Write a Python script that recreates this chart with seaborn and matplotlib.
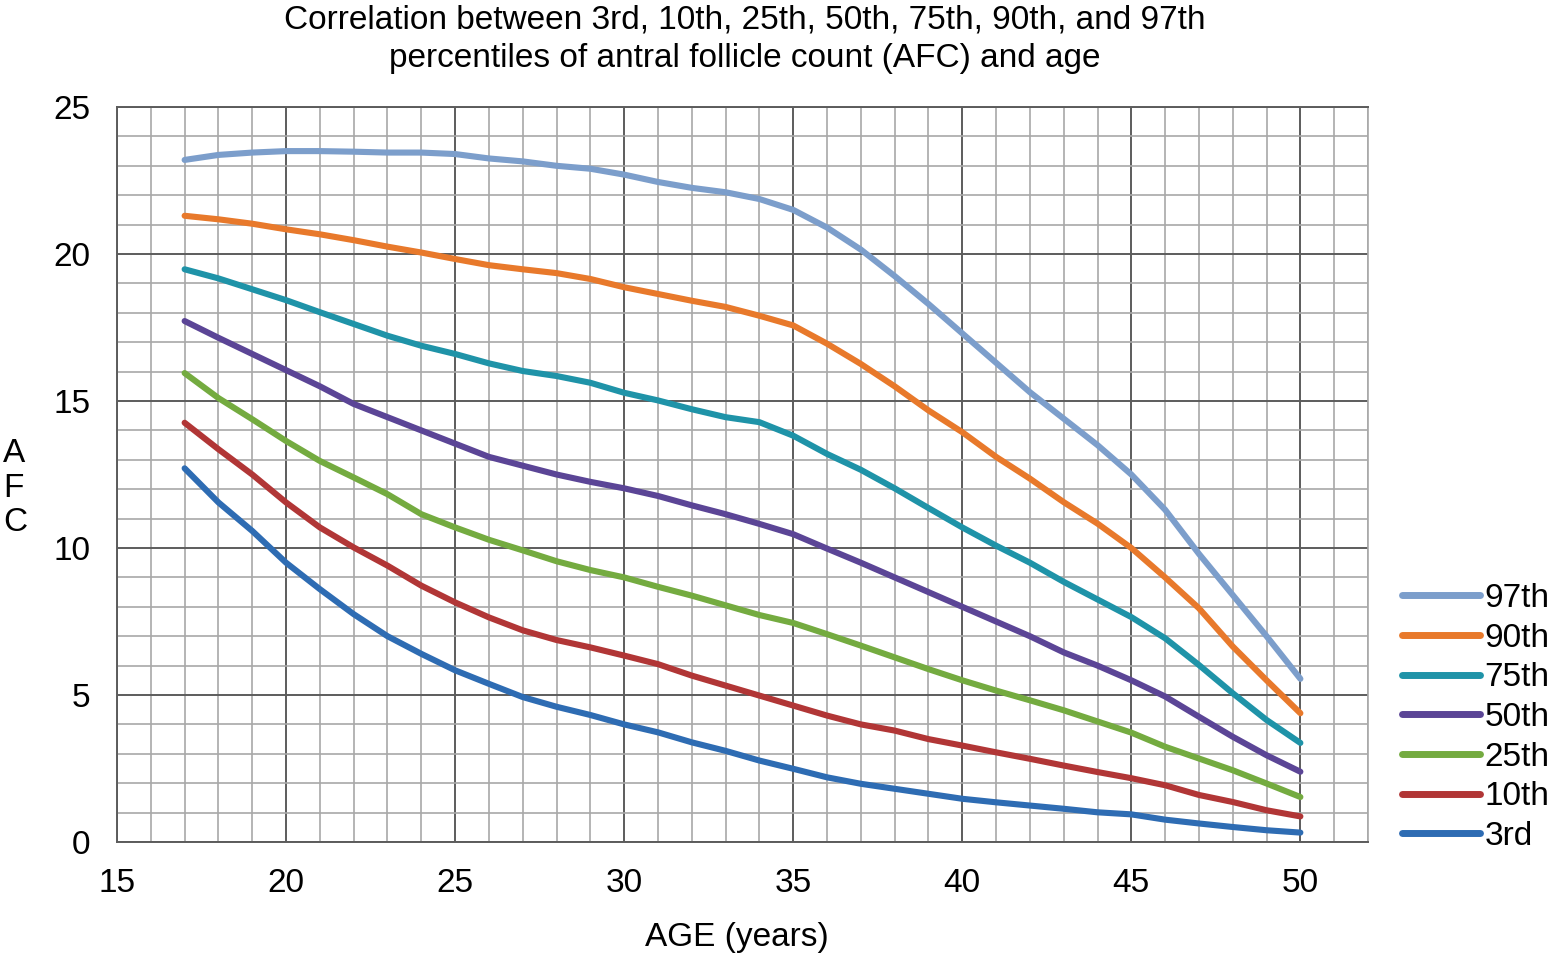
import numpy as np
import pandas as pd
import matplotlib
matplotlib.use("Agg")
import matplotlib.pyplot as plt
import seaborn as sns

ages = list(range(17, 51))
p97 = [23.2, 23.37, 23.45, 23.5, 23.5, 23.48, 23.45, 23.45, 23.4, 23.25, 23.15, 23.0, 22.9, 22.7,
       22.45, 22.25, 22.1, 21.87, 21.5, 20.9, 20.15, 19.25, 18.3, 17.3, 16.3, 15.3, 14.4, 13.5,
       12.5, 11.3, 9.8, 8.4, 7.0, 5.55]
p90 = [21.3, 21.18, 21.03, 20.84, 20.67, 20.47, 20.25, 20.05, 19.83, 19.62, 19.48, 19.35, 19.15, 18.87,
       18.64, 18.41, 18.2, 17.9, 17.57, 16.95, 16.26, 15.5, 14.68, 13.94, 13.1, 12.36, 11.56, 10.83,
       10.0, 9.0, 7.95, 6.65, 5.5, 4.38]
p75 = [19.48, 19.17, 18.8, 18.43, 18.02, 17.62, 17.22, 16.88, 16.6, 16.28, 16.02, 15.85, 15.62, 15.28,
       15.02, 14.72, 14.45, 14.28, 13.82, 13.2, 12.66, 12.03, 11.36, 10.7, 10.08, 9.5, 8.85, 8.25,
       7.65, 6.93, 6.02, 5.06, 4.15, 3.37]
p50 = [17.72, 17.15, 16.6, 16.05, 15.5, 14.9, 14.45, 14.0, 13.55, 13.1, 12.8, 12.5, 12.25, 12.03,
       11.77, 11.45, 11.15, 10.82, 10.47, 9.98, 9.5, 9.0, 8.5, 8.0, 7.5, 7.0, 6.45, 6.0,
       5.5, 4.95, 4.26, 3.58, 2.95, 2.39]
p25 = [15.95, 15.1, 14.38, 13.64, 12.96, 12.4, 11.83, 11.15, 10.7, 10.28, 9.92, 9.55, 9.25, 9.0,
       8.68, 8.38, 8.05, 7.72, 7.45, 7.07, 6.68, 6.28, 5.88, 5.5, 5.15, 4.82, 4.48, 4.1,
       3.72, 3.24, 2.84, 2.44, 1.99, 1.53]
p10 = [14.26, 13.36, 12.5, 11.55, 10.7, 10.02, 9.4, 8.72, 8.15, 7.64, 7.2, 6.87, 6.62, 6.34,
       6.05, 5.66, 5.32, 4.98, 4.64, 4.3, 4.0, 3.79, 3.5, 3.28, 3.05, 2.83, 2.6, 2.38,
       2.17, 1.93, 1.6, 1.36, 1.08, 0.87]
p3 = [12.71, 11.55, 10.58, 9.5, 8.6, 7.75, 7.0, 6.4, 5.84, 5.38, 4.93, 4.6, 4.32, 4.0,
      3.73, 3.39, 3.1, 2.77, 2.49, 2.2, 1.98, 1.81, 1.64, 1.47, 1.35, 1.24, 1.13, 1.01,
      0.94, 0.76, 0.63, 0.51, 0.4, 0.32]

series_names = ["97th", "90th", "75th", "50th", "25th", "10th", "3rd"]
series_values = [p97, p90, p75, p50, p25, p10, p3]
colors = ["#7c9ecb", "#e8792b", "#1f93a8", "#5b4596", "#74ab40", "#b13636", "#2e6cb3"]

x_ticks = [15, 20, 25, 30, 35, 40, 45, 50]
y_ticks = [0, 5, 10, 15, 20, 25]
title = "Correlation between 3rd, 10th, 25th, 50th, 75th, 90th, and 97th\npercentiles of antral follicle count (AFC) and age"

frames = []
for name, vals in zip(series_names, series_values):
    frames.append(pd.DataFrame({"age": ages, "afc": vals, "pct": name}))
df = pd.concat(frames, ignore_index=True)

sns.set_theme(style="white")
plt.rcParams["font.family"] = ["Liberation Sans", "DejaVu Sans"]
plt.rcParams["text.color"] = "black"

FS = 24

fig = plt.figure(figsize=(15.5, 9.55), dpi=100)
ax = fig.add_axes([117 / 1550, 1 - 842 / 955, (1368 - 117) / 1550, (842 - 107) / 955])

sns.lineplot(data=df, x="age", y="afc", hue="pct", hue_order=series_names,
             palette=colors, linewidth=4.4, ax=ax, legend=True, zorder=3,
             solid_capstyle="round", solid_joinstyle="round")

ax.set_xlim(15, 52)
ax.set_ylim(0, 25)
ax.set_xticks(x_ticks)
ax.set_yticks(y_ticks)
ax.set_xticks(np.arange(15, 53, 1), minor=True)
ax.set_yticks(np.arange(0, 26, 1), minor=True)
ax.set_axisbelow(True)
ax.grid(which="minor", color="#a8a8a8", linewidth=1.2)
ax.grid(which="major", color="#5c5c5c", linewidth=1.4)
ax.tick_params(which="minor", length=0)
ax.tick_params(which="major", length=10, width=1.4, color="#5c5c5c", direction="out",
               labelsize=FS, labelcolor="black")
ax.tick_params(axis="x", which="major", pad=9)
ax.tick_params(axis="y", which="major", pad=9)
for side in ["left", "bottom", "top"]:
    ax.spines[side].set_color("#5c5c5c")
    ax.spines[side].set_linewidth(1.4)
ax.spines["right"].set_color("#a8a8a8")
ax.spines["right"].set_linewidth(1.2)
ax.set_xlabel("")
ax.set_ylabel("")

leg = ax.legend(loc="lower left", bbox_to_anchor=(1402 / 1550, 1 - 852 / 955),
                bbox_transform=fig.transFigure, frameon=False, fontsize=FS,
                handlelength=2.35, handletextpad=0.12, labelspacing=0.26,
                borderpad=0, borderaxespad=0)
for line in leg.get_lines():
    line.set_linewidth(5)
    line.set_solid_capstyle("round")

fig.text(745 / 1550, 1 - 39.5 / 955, title, ha="center", va="center", fontsize=FS,
         linespacing=1.3)
fig.text(737 / 1550, 1 - 937 / 955, "AGE (years)", ha="center", va="center", fontsize=FS)
fig.text(3 / 1550, 1 - 488 / 955, "A\nF\nC", ha="left", va="center", fontsize=FS,
         linespacing=1.15)

fig.savefig("out.png", dpi=100)
